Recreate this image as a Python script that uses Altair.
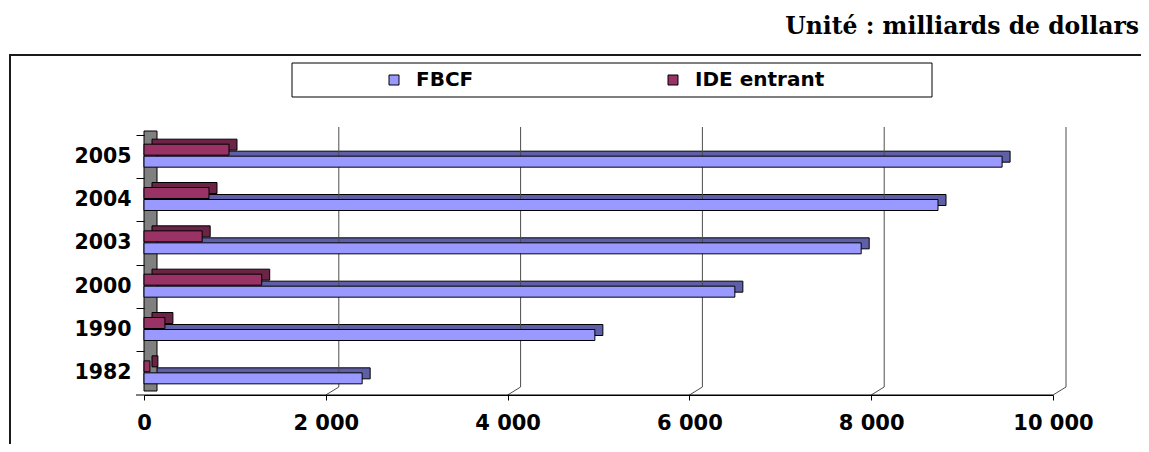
import altair as alt
import pandas as pd

# ---- data ----
years = ["1982", "1990", "2000", "2003", "2004", "2005"]
fbcf = [2400, 4960, 6500, 7890, 8735, 9440]
ide = [65, 230, 1295, 640, 715, 935]
series = ["FBCF", "IDE entrant"]
colors = ["#9999FF", "#993366"]
depth_colors = ["#5F5FA8", "#6B2346"]
x_ticks = [0, 2000, 4000, 6000, 8000, 10000]
title_text = ["Unité : milliards de dollars"]

rows = []
for yr, f, i in zip(years, fbcf, ide):
    rows.append({"year": yr, "series": series[0], "value": f})
    rows.append({"year": yr, "series": series[1], "value": i})
df = pd.DataFrame(rows)
grid_df = pd.DataFrame({"value": x_ticks[1:]})
wall_df = pd.DataFrame({"value": x_ticks[:1]})
base_df = pd.DataFrame({"value": x_ticks[:1], "end": x_ticks[-1:]})
one = pd.DataFrame({"k": [0]})
title_df = pd.DataFrame({"t": title_text})

W, H = 909, 260
year_order = years[::-1]
SANS = "DejaVu Sans"

x_scale = alt.Scale(domain=[x_ticks[0], x_ticks[-1]], nice=False, zero=True)
y_scale = alt.Scale(domain=year_order, paddingInner=0, paddingOuter=0)

x_axis = alt.Axis(
    title=None, values=x_ticks, grid=False, zindex=2, orient="bottom",
    labelExpr="replace(format(datum.value, ','), ',', ' ')",
    labelFlush=False, labelOverlap=False,
    labelFont=SANS, labelFontWeight="bold", labelFontSize=21, labelColor="black",
    tickSize=5, tickColor="black", domainColor="black", domainWidth=1, labelPadding=12,
)
y_axis = alt.Axis(
    title=None, bandPosition=0, tickSize=8, tickColor="black", domain=False,
    zindex=2, orient="left",
    labelFont=SANS, labelFontWeight="bold", labelFontSize=20.5, labelColor="black",
    labelPadding=5,
)

color_enc = alt.Color(
    "series:N",
    scale=alt.Scale(domain=series, range=colors),
    legend=alt.Legend(
        title=None, orient="none", legendX=240, legendY=-65, direction="horizontal",
        symbolType="square", symbolSize=100, symbolStrokeColor="black", symbolStrokeWidth=1,
        symbolOpacity=1, labelFont=SANS, labelFontWeight="bold", labelFontSize=20,
        labelColor="black", labelOffset=12, columnPadding=189, padding=0, zindex=2,
    ),
)

base = alt.Chart(df).encode(
    x=alt.X("value:Q", scale=x_scale, axis=x_axis),
    y=alt.Y("year:N", scale=y_scale, sort=year_order, axis=y_axis),
)

frame = alt.Chart(one).mark_rect(fillOpacity=0, stroke="#1a1a1a", strokeWidth=2).encode(
    x=alt.value(-134), x2=alt.value(W + 300), y=alt.value(-80), y2=alt.value(H + 300)
)
legend_box = alt.Chart(one).mark_rect(fill="white", stroke="black", strokeWidth=1).encode(
    x=alt.value(148), x2=alt.value(788), y=alt.value(-72), y2=alt.value(-38)
)
title = alt.Chart(title_df).mark_text(
    font="DejaVu Serif", fontWeight="bold", fontSize=23.5, align="right",
    baseline="alphabetic", color="black"
).encode(text="t:N", x=alt.value(995), y=alt.value(-101))

wall = alt.Chart(wall_df).mark_rect(fill="#808080", stroke="black", strokeWidth=1, x2Offset=13).encode(
    x=alt.X("value:Q"), x2="value:Q", y=alt.value(-4), y2=alt.value(H - 4)
)
grid = alt.Chart(grid_df).mark_rule(color="#4d4d4d", strokeWidth=1, xOffset=13).encode(
    x=alt.X("value:Q"), y=alt.value(-8), y2=alt.value(H - 8)
)
connectors = alt.Chart(grid_df).mark_rule(color="#4d4d4d", strokeWidth=1, x2Offset=13).encode(
    x=alt.X("value:Q"), x2="value:Q", y=alt.value(H), y2=alt.value(H - 8)
)
baseline = alt.Chart(base_df).mark_rule(color="black", strokeWidth=1, xOffset=-8).encode(
    x=alt.X("value:Q"), x2="end:Q", y=alt.value(H)
)

fbcf_depth = base.transform_filter(alt.datum.series == series[0]).mark_bar(
    size=11, xOffset=8, x2Offset=8, yOffset=0, color=depth_colors[0],
    stroke="black", strokeWidth=1
)
ide_depth = base.transform_filter(alt.datum.series == series[1]).mark_bar(
    size=11, xOffset=8, x2Offset=8, yOffset=-12, color=depth_colors[1],
    stroke="black", strokeWidth=1
)
ide_front = base.transform_filter(alt.datum.series == series[1]).mark_bar(
    size=11, yOffset=-7, stroke="black", strokeWidth=1, opacity=1
).encode(color=color_enc)
fbcf_front = base.transform_filter(alt.datum.series == series[0]).mark_bar(
    size=11, yOffset=5, stroke="black", strokeWidth=1, opacity=1
).encode(color=color_enc)

chart = alt.layer(
    fbcf_depth, frame, legend_box, title, wall, grid, connectors, baseline,
    ide_depth, ide_front, fbcf_front
).properties(
    width=W, height=H, background="white",
    autosize=alt.AutoSizeParams(type="none"),
    padding={"left": 136, "top": 127, "right": 88, "bottom": 49},
).configure_view(strokeOpacity=0)

chart.save("out.html", embed_options={"renderer": "svg", "actions": False})
